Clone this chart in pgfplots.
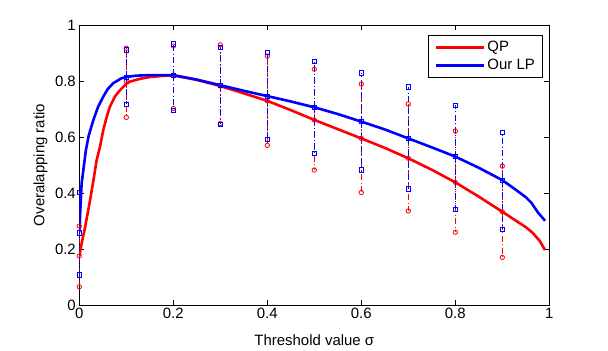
\documentclass[border=0pt]{standalone}
\usepackage{fontspec}
\setmainfont{Liberation Sans}
\usepackage{pgfplots}
\pgfplotsset{compat=1.18}
\usepackage{pgfplotstable}

\pgfplotstableread{
x lo mid hi
0   0.065 0.175 0.282
0.1 0.670 0.798 0.917
0.2 0.702 0.821 0.925
0.3 0.648 0.782 0.929
0.4 0.570 0.729 0.889
0.5 0.482 0.661 0.842
0.6 0.402 0.595 0.789
0.7 0.336 0.524 0.718
0.8 0.260 0.438 0.621
0.9 0.170 0.333 0.496
}\qpbars

\pgfplotstableread{
x lo mid hi
0   0.107 0.257 0.402
0.1 0.717 0.813 0.911
0.2 0.696 0.821 0.932
0.3 0.645 0.785 0.920
0.4 0.592 0.746 0.902
0.5 0.542 0.706 0.870
0.6 0.482 0.655 0.829
0.7 0.414 0.595 0.779
0.8 0.342 0.530 0.713
0.9 0.270 0.446 0.617
}\lpbars

\pgfplotstableread{
x y
0     0.175
0.005 0.220
0.012 0.275
0.023 0.375
0.030 0.445
0.037 0.518
0.044 0.565
0.051 0.625
0.058 0.670
0.065 0.708
0.076 0.745
0.087 0.768
0.100 0.790
0.108 0.798
0.130 0.808
0.150 0.814
0.175 0.818
0.200 0.820
0.250 0.804
0.300 0.782
0.350 0.756
0.400 0.729
0.450 0.696
0.500 0.661
0.550 0.628
0.600 0.595
0.650 0.561
0.700 0.524
0.750 0.483
0.800 0.438
0.850 0.387
0.900 0.333
0.930 0.300
0.950 0.278
0.965 0.257
0.980 0.228
0.991 0.196
}\qpcurve

\pgfplotstableread{
x y
0     0.260
0.002 0.330
0.005 0.435
0.010 0.500
0.014 0.553
0.020 0.605
0.030 0.661
0.040 0.708
0.051 0.744
0.060 0.770
0.072 0.792
0.090 0.810
0.100 0.814
0.120 0.819
0.150 0.821
0.200 0.821
0.250 0.805
0.300 0.785
0.350 0.765
0.400 0.746
0.450 0.727
0.500 0.706
0.550 0.682
0.600 0.655
0.650 0.627
0.700 0.595
0.750 0.563
0.800 0.530
0.850 0.490
0.900 0.446
0.930 0.410
0.950 0.385
0.962 0.365
0.976 0.330
0.991 0.301
}\lpcurve

\tikzset{mdashdot/.style={dash pattern=on 6bp off 2.5bp on 1bp off 2.5bp}}

\begin{document}
\begin{tikzpicture}
\useasboundingbox (-79.3bp,-46bp) rectangle (528.7bp,305bp);
\begin{axis}[
  at={(0,0)}, anchor=south west,
  scale only axis, width=470bp, height=280bp,
  xmin=0, xmax=1, ymin=0, ymax=1,
  xtick={0,0.2,0.4,0.6,0.8,1},
  ytick={0,0.2,0.4,0.6,0.8,1},
  tick align=inside, major tick length=5bp,
  axis line style={line width=0.8bp},
  every tick/.style={black, line width=0.8bp},
  /pgf/number format/assume math mode=true,
  tick label style={font=\fontsize{15}{18}\selectfont},
  label style={font=\fontsize{15}{18}\selectfont},
  xlabel={Threshold value σ},
  ylabel={Overalapping ratio},
  xlabel style={at={(axis description cs:0.5,-0.1429)}, anchor=base},
  ylabel style={at={(axis description cs:-0.0745,0.5)}, anchor=base},
  legend style={at={(axis description cs:0.987,0.964)}, anchor=north east,
    draw=black, line width=0.8bp, font=\fontsize{15}{18}\selectfont,
    inner xsep=6bp, inner ysep=4bp, row sep=2bp},
  legend cell align=left,
  legend image code/.code={\draw[#1] (0bp,0bp) -- (48bp,0bp);},
]
\addplot[red, line width=2.6bp, line join=round] table[x=x,y=y] {\qpcurve};
\addplot[blue, line width=2.6bp, line join=round] table[x=x,y=y] {\lpcurve};
\legend{QP, Our LP}

\addplot[draw=none, mark=none, forget plot,
  error bars/.cd, y dir=both, y explicit, error mark=none,
  error bar style={red, line width=0.8bp, mdashdot}]
  table[x=x, y=mid, y error plus expr=\thisrow{hi}-\thisrow{mid},
        y error minus expr=\thisrow{mid}-\thisrow{lo}] {\qpbars};
\addplot[only marks, mark=o, mark size=2.2bp, red, line width=0.8bp, forget plot] table[x=x,y=lo] {\qpbars};
\addplot[only marks, mark=o, mark size=2.2bp, red, line width=0.8bp, forget plot] table[x=x,y=mid] {\qpbars};
\addplot[only marks, mark=o, mark size=2.2bp, red, line width=0.8bp, forget plot] table[x=x,y=hi] {\qpbars};

\addplot[draw=none, mark=none, forget plot,
  error bars/.cd, y dir=both, y explicit, error mark=none,
  error bar style={blue, line width=0.8bp, mdashdot}]
  table[x=x, y=mid, y error plus expr=\thisrow{hi}-\thisrow{mid},
        y error minus expr=\thisrow{mid}-\thisrow{lo}] {\lpbars};
\addplot[only marks, mark=square, mark size=2.2bp, blue, line width=0.8bp, forget plot] table[x=x,y=lo] {\lpbars};
\addplot[only marks, mark=square, mark size=2.2bp, blue, line width=0.8bp, forget plot] table[x=x,y=mid] {\lpbars};
\addplot[only marks, mark=square, mark size=2.2bp, blue, line width=0.8bp, forget plot] table[x=x,y=hi] {\lpbars};
\end{axis}
\end{tikzpicture}
\end{document}
